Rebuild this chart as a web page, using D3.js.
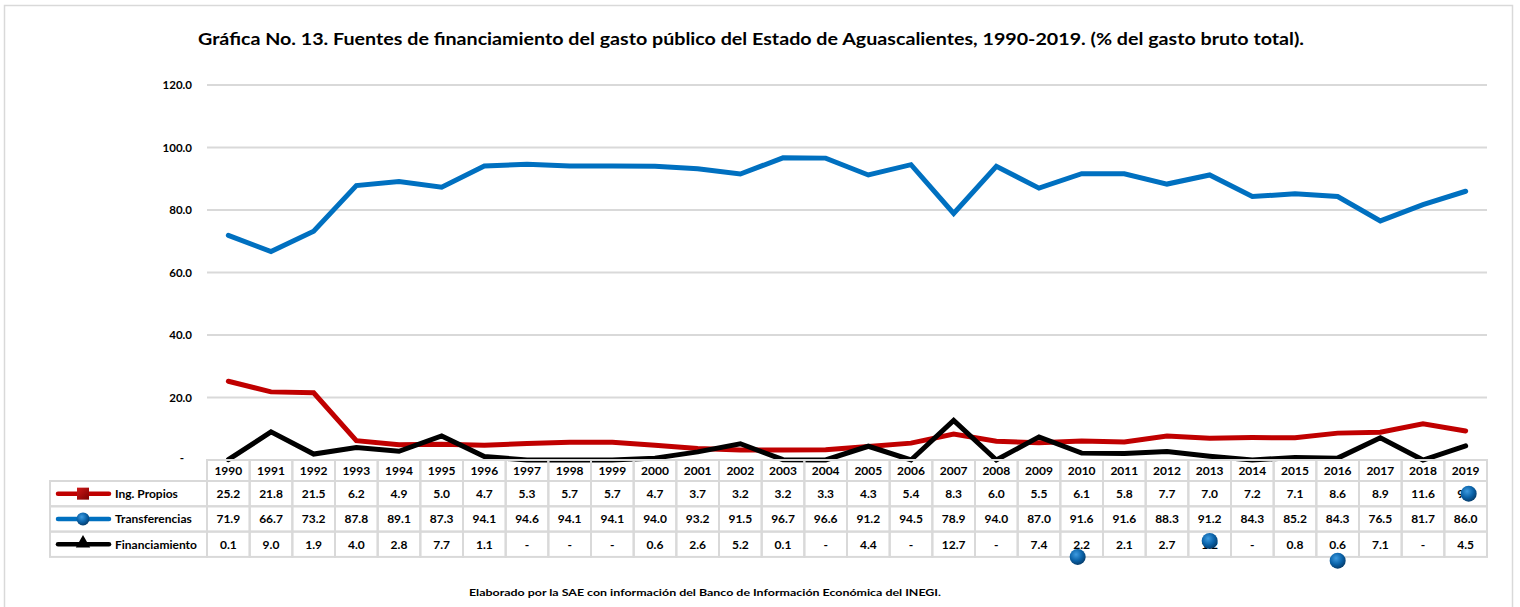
<!DOCTYPE html>
<html>
<head>
<meta charset="utf-8">
<script src="https://cdn.jsdelivr.net/npm/d3@7"></script>
<style>
  body { margin: 0; background: #fff; }
  text { font-family: Lato, "Open Sans", sans-serif; font-weight: bold; fill: #000; }
</style>
</head>
<body>
<svg id="chart" width="1520" height="607"></svg>
<script>
// data
var years = d3.range(1990, 2020);
var ingPropios = [25.2, 21.8, 21.5, 6.2, 4.9, 5.0, 4.7, 5.3, 5.7, 5.7, 4.7, 3.7, 3.2, 3.2, 3.3, 4.3, 5.4, 8.3, 6.0, 5.5, 6.1, 5.8, 7.7, 7.0, 7.2, 7.1, 8.6, 8.9, 11.6, 9.3];
var transferencias = [71.9, 66.7, 73.2, 87.8, 89.1, 87.3, 94.1, 94.6, 94.1, 94.1, 94.0, 93.2, 91.5, 96.7, 96.6, 91.2, 94.5, 78.9, 94.0, 87.0, 91.6, 91.6, 88.3, 91.2, 84.3, 85.2, 84.3, 76.5, 81.7, 86.0];
var financiamiento = [0.1, 9.0, 1.9, 4.0, 2.8, 7.7, 1.1, 0, 0, 0, 0.6, 2.6, 5.2, 0.1, 0, 4.4, 0, 12.7, 0, 7.4, 2.2, 2.1, 2.7, 1.2, 0, 0.8, 0.6, 7.1, 0, 4.5];
var yTicks = [0, 20, 40, 60, 80, 100, 120];
// stray blue markers that sit on the table in the original (year, row position)
var strayYears = [2010, 2013, 2016, 2019];
var strayRows = [3.0, 2.37, 3.15, 0.5];
var strayShift = [-4, 0, 0, 3];

var seriesList = [
  {name: "Ing. Propios", values: ingPropios, color: "#C00000", marker: "square"},
  {name: "Transferencias", values: transferencias, color: "#0070C0", marker: "circle"},
  {name: "Financiamiento", values: financiamiento, color: "#000000", marker: "triangle"}
];

var svg = d3.select("#chart");
var plotLeft = 207, plotRight = 1487, plotTop = 85, plotBottom = 460;
var headerH = 21, rowH = 25.3;

var defs = svg.append("defs");
var rg = defs.append("radialGradient").attr("id", "ball").attr("cx", "40%").attr("cy", "35%").attr("r", "65%");
rg.append("stop").attr("offset", "0%").attr("stop-color", "#3d9be0");
rg.append("stop").attr("offset", "60%").attr("stop-color", "#0a62a8");
rg.append("stop").attr("offset", "100%").attr("stop-color", "#063e6e");
var sg = defs.append("linearGradient").attr("id", "sq").attr("x1", "0").attr("y1", "0").attr("x2", "1").attr("y2", "1");
sg.append("stop").attr("offset", "0%").attr("stop-color", "#d01818");
sg.append("stop").attr("offset", "100%").attr("stop-color", "#7a0000");

// outer frame
svg.append("rect")
    .attr("x", 4.5).attr("y", 5.5).attr("width", 1508).attr("height", 610)
    .attr("fill", "none").attr("stroke", "#d9d9d9").attr("stroke-width", 1.5);

var x = d3.scaleBand().domain(years).range([plotLeft, plotRight]);
var y = d3.scaleLinear().domain([0, 120]).range([plotBottom, plotTop]);

// gridlines
svg.append("g").selectAll("line")
    .data(yTicks.filter(function(d) { return d > 0; }))
    .enter().append("line")
    .attr("x1", plotLeft).attr("x2", plotRight)
    .attr("y1", function(d) { return y(d); }).attr("y2", function(d) { return y(d); })
    .attr("stroke", "#d9d9d9").attr("stroke-width", 2);

// y axis labels
var yAxis = svg.append("g")
    .attr("transform", "translate(199,0)")
    .call(d3.axisLeft(y).tickValues(yTicks).tickSize(0).tickPadding(7)
        .tickFormat(function(d) { return d === 0 ? "-" : d.toFixed(1); }));
yAxis.select(".domain").remove();
yAxis.selectAll("text")
    .attr("font-family", "Lato, sans-serif").attr("font-weight", "bold").attr("font-size", 11.5).attr("fill", "#000");
yAxis.selectAll(".tick").filter(function(d) { return d === 0; }).select("text")
    .attr("x", -15).attr("dy", "0.1em");

// lines
var line = d3.line()
    .x(function(d, i) { return x(years[i]) + x.bandwidth() / 2; })
    .y(function(d) { return y(d); });

[seriesList[0], seriesList[2], seriesList[1]].forEach(function(s) {
  svg.append("path")
      .datum(s.values)
      .attr("fill", "none")
      .attr("stroke", s.color)
      .attr("stroke-width", 5)
      .attr("stroke-linejoin", "miter")
      .attr("stroke-linecap", "round")
      .attr("d", line);
});

// data table
var tableTop = plotBottom;
var tbl = svg.append("g");
var gridColor = "#d9d9d9";

// header cells (years)
tbl.selectAll("rect.yr")
    .data(years).enter().append("rect")
    .attr("x", function(d) { return x(d); }).attr("y", tableTop)
    .attr("width", x.bandwidth()).attr("height", headerH)
    .attr("fill", "none").attr("stroke", gridColor).attr("stroke-width", 2);
tbl.selectAll("text.yr")
    .data(years).enter().append("text")
    .attr("x", function(d) { return x(d) + x.bandwidth() / 2; })
    .attr("y", tableTop + headerH / 2 + 4.5)
    .attr("text-anchor", "middle").attr("font-size", 12)
    .text(function(d) { return d; });

var labelLeft = 50;
seriesList.forEach(function(s, r) {
  var rowTop = tableTop + headerH + r * rowH;
  var cy = rowTop + rowH / 2;
  tbl.append("rect")
      .attr("x", labelLeft).attr("y", rowTop)
      .attr("width", plotLeft - labelLeft).attr("height", rowH)
      .attr("fill", "none").attr("stroke", gridColor).attr("stroke-width", 2);
  tbl.selectAll(null)
      .data(years).enter().append("rect")
      .attr("x", function(d) { return x(d); }).attr("y", rowTop)
      .attr("width", x.bandwidth()).attr("height", rowH)
      .attr("fill", "none").attr("stroke", gridColor).attr("stroke-width", 2);
  tbl.selectAll(null)
      .data(s.values).enter().append("text")
      .attr("x", function(d, i) { return x(years[i]) + x.bandwidth() / 2; })
      .attr("y", cy + 4.5)
      .attr("text-anchor", "middle").attr("font-size", 12)
      .text(function(d) { return d === 0 ? "-" : d.toFixed(1); });

  // legend key
  tbl.append("line")
      .attr("x1", 58).attr("x2", 109).attr("y1", cy).attr("y2", cy)
      .attr("stroke", s.color).attr("stroke-width", 4.5).attr("stroke-linecap", "round");
  if (s.marker === "square") {
    tbl.append("rect").attr("x", 77).attr("y", cy - 6).attr("width", 12).attr("height", 12)
        .attr("fill", "url(#sq)");
  } else if (s.marker === "circle") {
    tbl.append("circle").attr("cx", 83).attr("cy", cy).attr("r", 6.5).attr("fill", "url(#ball)");
  } else {
    tbl.append("path").attr("d", d3.symbol().type(d3.symbolTriangle).size(90)())
        .attr("transform", "translate(83," + (cy - 1) + ")").attr("fill", "#000");
  }
  tbl.append("text")
      .attr("x", 115).attr("y", cy + 4.5)
      .attr("font-size", 12)
      .text(s.name);
});

// stray markers over the table
svg.selectAll("circle.stray")
    .data(strayYears).enter().append("circle")
    .attr("cx", function(d, i) { return x(d) + x.bandwidth() / 2 + strayShift[i]; })
    .attr("cy", function(d, i) { return tableTop + headerH + strayRows[i] * rowH; })
    .attr("r", 8)
    .attr("fill", "url(#ball)");

// title
svg.append("text")
    .attr("x", 751).attr("y", 45)
    .attr("text-anchor", "middle").attr("font-size", 17.5)
    .attr("textLength", 1106).attr("lengthAdjust", "spacingAndGlyphs")
    .text("Gráfica No. 13. Fuentes de financiamiento del gasto público del Estado de Aguascalientes,  1990-2019. (% del gasto bruto total).");

// source note
svg.append("text")
    .attr("x", 705).attr("y", 596)
    .attr("text-anchor", "middle").attr("font-size", 10)
    .attr("textLength", 472).attr("lengthAdjust", "spacingAndGlyphs")
    .text("Elaborado por la SAE con información del Banco de Información Económica del INEGI.");
</script>
</body>
</html>
